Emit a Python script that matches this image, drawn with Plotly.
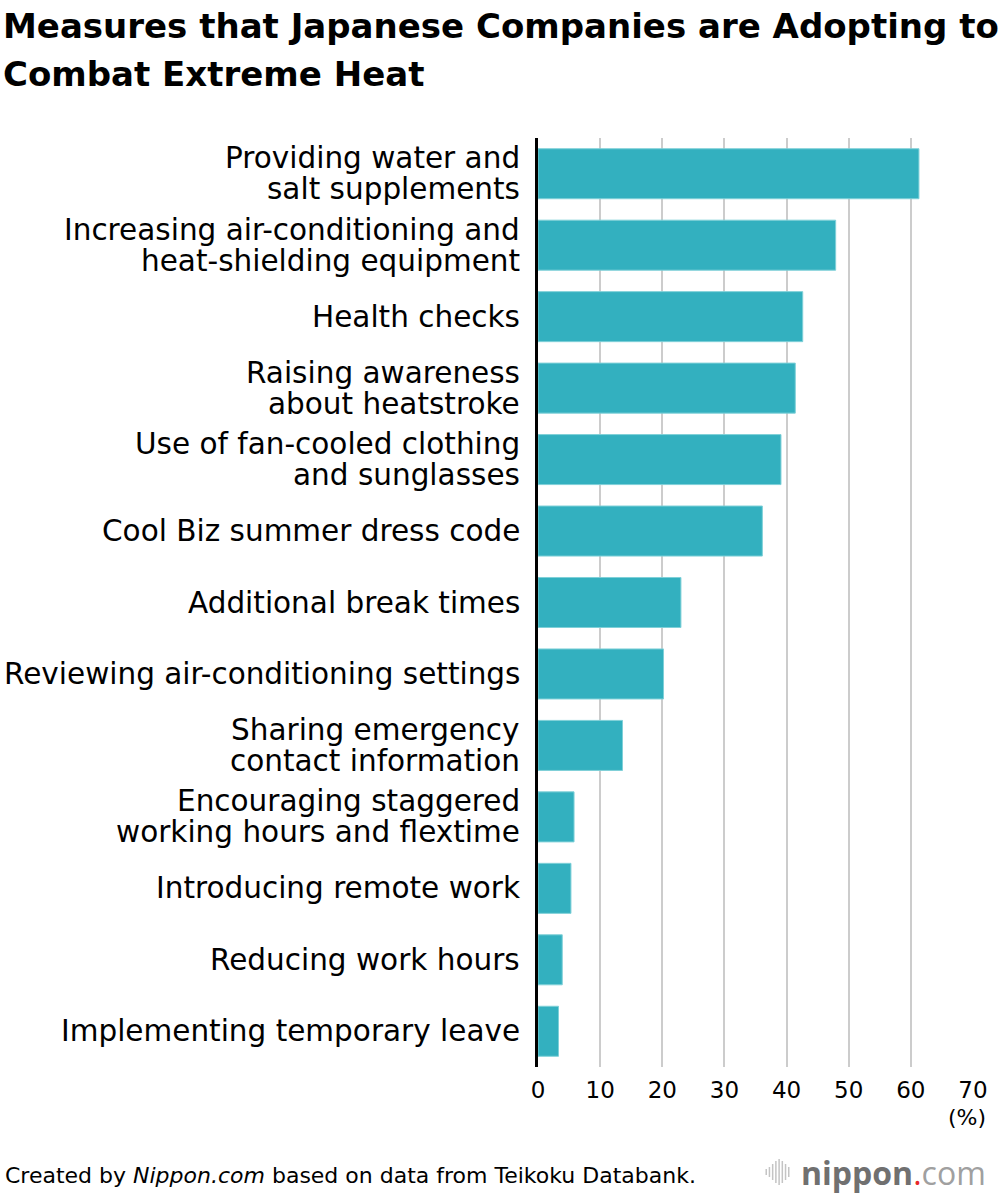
import plotly.graph_objects as go

categories = [
    "Providing water and<br>salt supplements",
    "Increasing air-conditioning and<br>heat-shielding equipment",
    "Health checks",
    "Raising awareness<br>about heatstroke",
    "Use of fan-cooled clothing<br>and sunglasses",
    "Cool Biz summer dress code",
    "Additional break times",
    "Reviewing air-conditioning settings",
    "Sharing emergency<br>contact information",
    "Encouraging staggered<br>working hours and flextime",
    "Introducing remote work",
    "Reducing work hours",
    "Implementing temporary leave",
]
values = [61.3, 47.9, 42.6, 41.4, 39.1, 36.1, 23.0, 20.2, 13.6, 5.8, 5.3, 3.9, 3.3]
x_ticks = [0, 10, 20, 30, 40, 50, 60, 70]
title_lines = ["Measures that Japanese Companies are Adopting to", "Combat Extreme Heat"]

W, H = 1000, 1196
ML, MR, MT, MB = 538, 16, 138, 129
PW, PH = W - ML - MR, H - MT - MB
FONT = "DejaVu Sans"


def px2x(px):
    return (px - ML) / PW


def py2y(py):
    return (H - MB - py) / PH


fig = go.Figure(go.Bar(
    x=values, y=categories, orientation="h",
    marker=dict(color="#33b0bf", line=dict(color="#7fd0d8", width=1)),
    width=0.70,
))

fig.update_layout(
    width=W, height=H,
    margin=dict(l=ML, r=MR, t=MT, b=MB),
    plot_bgcolor="white", paper_bgcolor="white",
    showlegend=False,
    font=dict(family=FONT, color="#000"),
)
fig.update_xaxes(
    range=[0, 70], tickvals=x_ticks, ticktext=[str(v) for v in x_ticks],
    showgrid=True, gridcolor="#cccccc", gridwidth=2,
    zeroline=False, showline=False,
    tickfont=dict(size=23, family=FONT, color="#000"),
    ticks="", ticklabelstandoff=7,
)
fig.update_yaxes(
    categoryorder="array", categoryarray=categories[::-1],
    range=[-0.5, 12.5],
    showgrid=False, zeroline=False,
    showline=True, linecolor="#000", linewidth=3,
    showticklabels=False, ticks="",
)

# category labels (separate lines for tight line spacing)
for cat in categories:
    lines = cat.split("<br>")
    n = len(lines)
    for i, ln in enumerate(lines):
        off = (i - (n - 1) / 2) * 31
        fig.add_annotation(
            xref="paper", yref="y", x=0, y=cat, xanchor="right", yanchor="middle",
            text=ln, showarrow=False, xshift=-16, yshift=-off,
            font=dict(size=29.5, family=FONT, color="#000"),
        )

# Title
for i, ln in enumerate(title_lines):
    fig.add_annotation(
        xref="paper", yref="paper", x=px2x(0), y=py2y(26 + 48 * i),
        xanchor="left", yanchor="middle", xshift=-12,
        text="<b>" + ln + "</b>", showarrow=False,
        font=dict(size=34, family=FONT, color="#000"),
    )

# (%) label
fig.add_annotation(
    xref="paper", yref="paper", x=px2x(999), y=py2y(1117),
    xanchor="right", yanchor="middle", text="(%)", showarrow=False,
    font=dict(size=22, family=FONT, color="#000"),
)
# footer
fig.add_annotation(
    xref="paper", yref="paper", x=px2x(0), y=py2y(1175),
    xanchor="left", yanchor="middle", showarrow=False, xshift=-10,
    text="Created by <i>Nippon.com</i> based on data from Teikoku Databank.",
    font=dict(size=22, family=FONT, color="#000"),
)
fig.add_annotation(
    xref="paper", yref="paper", x=px2x(999), y=py2y(1172),
    xanchor="right", yanchor="middle", showarrow=False,
    text="<b>nippon</b><span style='color:#e8272a'>.</span><span style='color:#a0a0a0'>com</span>",
    font=dict(size=32, family="Open Sans", color="#707070"),
)
# logo sound-wave icon
icon_h = [6, 10, 16, 22, 26, 22, 16, 10]
for k, h in enumerate(icon_h):
    xp = 772 + k * 3.3
    fig.add_shape(
        type="line", xref="paper", yref="paper",
        x0=px2x(xp), x1=px2x(xp), y0=py2y(1172 - h / 2), y1=py2y(1172 + h / 2),
        line=dict(color="#c4c4c4", width=1.5),
    )

fig.write_html("out.html")
